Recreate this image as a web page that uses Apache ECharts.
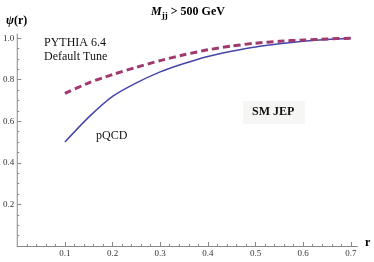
<!DOCTYPE html>
<html><head><meta charset="utf-8">
<script src="https://cdn.jsdelivr.net/npm/echarts@6/dist/echarts.min.js"></script>
<style>html,body{margin:0;padding:0;background:#fff}#c{width:374px;height:262px}</style>
</head><body><div id="c"></div>
<script>
const rValues = [0.1,0.15,0.2,0.25,0.3,0.35,0.4,0.45,0.5,0.55,0.6,0.65,0.7];
const pqcd =    [0.50,0.62,0.72,0.785,0.838,0.878,0.912,0.937,0.958,0.973,0.985,0.994,1.0];
const pythia =  [0.734,0.785,0.825,0.86,0.892,0.92,0.944,0.962,0.976,0.985,0.991,0.996,1.0];
const xMajor = [0.1,0.2,0.3,0.4,0.5,0.6,0.7];
const yMajor = [0.2,0.4,0.6,0.8,1.0];

const xMinor = [], yMinor = [];
for (let i = 1; i <= 35; i++) { if (i % 5) xMinor.push(+(i*0.02).toFixed(2)); }
for (let i = 1; i <= 20; i++) { if (i % 4) yMinor.push(+(i*0.05).toFixed(2)); }

const serif = '"Liberation Serif","DejaVu Serif",serif';
const lineC = '#888', labC = '#333';
const XMAX = 0.714, YMAX = 1.02;

const chart = echarts.init(document.getElementById('c'));
const baseX = {type:'value', min:0, max:XMAX, position:'bottom', splitLine:{show:false}};
const baseY = {type:'value', min:0, max:YMAX, position:'left', splitLine:{show:false}};
chart.setOption({
  animation:false,
  grid:{left:16, right:16.5, top:34, bottom:16},
  title:{text:'{i|M}{s|jj}{n| > 500 GeV}', left:183, top:-1, textAlign:'center',
    textStyle:{rich:{
      i:{fontFamily:serif, fontSize:12, fontWeight:'bold', fontStyle:'italic', color:'#000'},
      s:{fontFamily:serif, fontSize:9, fontWeight:'bold', color:'#000', verticalAlign:'bottom', padding:[7,0,0,0]},
      n:{fontFamily:serif, fontSize:12, fontWeight:'bold', color:'#000'}
    }}},
  xAxis:[
    Object.assign({}, baseX, {
      axisLine:{show:true, onZero:false, lineStyle:{color:lineC, width:1}},
      axisTick:{show:true, inside:true, length:4, customValues:xMajor, lineStyle:{color:lineC}},
      axisLabel:{show:true, customValues:xMajor, formatter:v=>v.toFixed(1), color:labC, fontFamily:serif, fontSize:9, margin:3}
    }),
    Object.assign({}, baseX, {
      axisLine:{show:false},
      axisTick:{show:true, inside:true, length:2, customValues:xMinor, lineStyle:{color:lineC}},
      axisLabel:{show:false}
    })
  ],
  yAxis:[
    Object.assign({}, baseY, {
      axisLine:{show:true, onZero:false, lineStyle:{color:lineC, width:1}},
      axisTick:{show:true, inside:true, length:4, customValues:yMajor, lineStyle:{color:lineC}},
      axisLabel:{show:true, customValues:yMajor, formatter:v=>v.toFixed(1), color:labC, fontFamily:serif, fontSize:9, margin:3}
    }),
    Object.assign({}, baseY, {
      axisLine:{show:false},
      axisTick:{show:true, inside:true, length:2, customValues:yMinor, lineStyle:{color:lineC}},
      axisLabel:{show:false}
    })
  ],
  series:[
    {type:'line', name:'pQCD', data:rValues.map((r,i)=>[r,pqcd[i]]), showSymbol:false, smooth:0.25,
     lineStyle:{color:'#4646a8', width:1.5}},
    {type:'line', name:'PYTHIA 6.4', data:rValues.map((r,i)=>[r,pythia[i]]), showSymbol:false, smooth:0.25,
     lineStyle:{color:'#a0396f', width:3, type:[7,4]}}
  ],
  graphic:[
    {type:'text', left:6, top:15, style:{text:'{p|ψ}{q|(r)}', rich:{
      p:{fontFamily:serif, fontSize:12, fontWeight:'bold', fontStyle:'italic', fill:'#000'},
      q:{fontFamily:serif, fontSize:12, fontWeight:'bold', fill:'#000'}}}},
    {type:'text', left:365, top:237, style:{text:'r', font:'bold 12px '+serif, fill:'#000'}},
    {type:'text', left:44, top:37, style:{text:'PYTHIA 6.4', font:'12px '+serif, fill:'#111'}},
    {type:'text', left:44, top:51, style:{text:'Default Tune', font:'12px '+serif, fill:'#111'}},
    {type:'text', left:96, top:130, style:{text:'pQCD', font:'12px '+serif, fill:'#111'}},
    {type:'rect', left:243, top:101, shape:{width:62, height:23}, style:{fill:'#f6f6f4'}},
    {type:'text', left:252, top:106, style:{text:'SM JEP', font:'bold 12px '+serif, fill:'#111'}}
  ]
});
</script></body></html>
